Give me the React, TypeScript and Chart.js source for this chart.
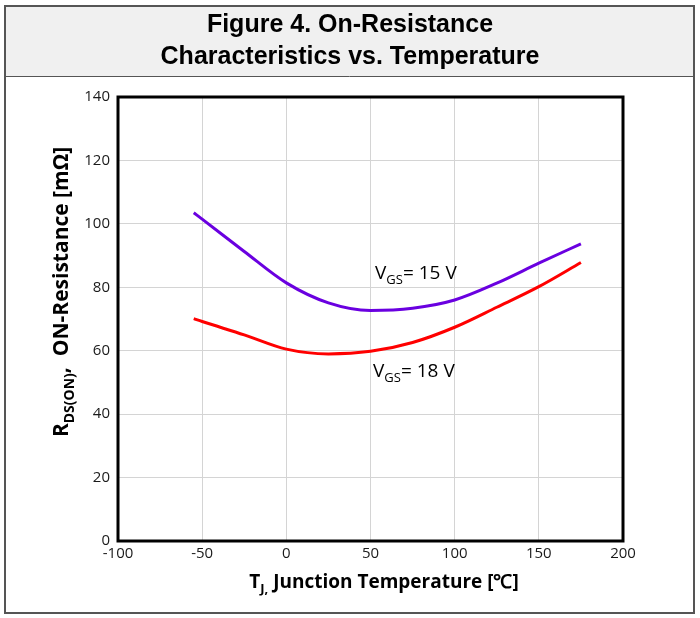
import React, { useEffect, useRef } from "react";
import { Chart, registerables } from "chart.js";
Chart.register(...registerables);

const temps = [-55, -50, -25, 0, 25, 50, 75, 100, 125, 150, 175];
const rdsVgs15 = [103.5, 101.5, 91.3, 81.4, 75.1, 72.7, 73.4, 76, 81.3, 87.6, 93.7];
const rdsVgs18 = [70.1, 69.2, 65, 60.5, 59, 59.8, 62.6, 67.4, 73.7, 80.2, 87.8];
const seriesNames = ["VGS = 15 V", "VGS = 18 V"];
const seriesColors = ["#6a00e0", "#ff0000"];

const titleLines = ["Figure 4. On-Resistance", "Characteristics vs. Temperature"];
const xTitle = [
  { t: "T", sub: false },
  { t: "J,", sub: true },
  { t: " Junction Temperature [℃]", sub: false },
];
const yTitle = [
  { t: "R", sub: false },
  { t: "DS(ON)", sub: true },
  { t: ",  ON-Resistance [mΩ]", sub: false },
];
const labelX = [52.7, 51.5];
const labelY = [84.8, 53.9];
const labelTail = ["= 15 V", "= 18 V"];

const xMin = -100, xMax = 200, xStep = 50;
const yMin = 0, yMax = 140, yStep = 20;

type Seg = { t: string; sub: boolean };

function drawRich(ctx: CanvasRenderingContext2D, segs: Seg[], size: number, subSize: number, bold: boolean, family: string, x: number, y: number, align: "left" | "center") {
  const w = bold ? "bold " : "";
  let total = 0;
  for (const s of segs) {
    ctx.font = `${w}${s.sub ? subSize : size}px ${family}`;
    total += ctx.measureText(s.t).width;
  }
  let cx = align === "center" ? x - total / 2 : x;
  ctx.textBaseline = "alphabetic";
  ctx.textAlign = "left";
  for (const s of segs) {
    ctx.font = `${w}${s.sub ? subSize : size}px ${family}`;
    ctx.fillText(s.t, cx, y + (s.sub ? size * 0.28 : 0));
    cx += ctx.measureText(s.t).width;
  }
}

const decorPlugin = {
  id: "decor",
  beforeDraw(chart: any) {
    const ctx = chart.ctx as CanvasRenderingContext2D;
    ctx.save();
    ctx.fillStyle = "#ffffff";
    ctx.fillRect(0, 0, chart.width, chart.height);
    ctx.fillStyle = "#f0f0f0";
    ctx.fillRect(5, 6, 689, 70);
    ctx.strokeStyle = "#555555";
    ctx.lineWidth = 1;
    ctx.beginPath();
    ctx.moveTo(5, 76.5);
    ctx.lineTo(694, 76.5);
    ctx.stroke();
    ctx.lineWidth = 2;
    ctx.strokeRect(5, 6, 689, 607);
    ctx.fillStyle = "#000000";
    ctx.font = "bold 25px 'Liberation Sans', Arial, sans-serif";
    ctx.textAlign = "center";
    ctx.textBaseline = "middle";
    ctx.fillText(titleLines[0], 350, 25);
    ctx.fillText(titleLines[1], 350, 57);
    ctx.restore();
  },
  afterDraw(chart: any) {
    const ctx = chart.ctx as CanvasRenderingContext2D;
    const a = chart.chartArea;
    ctx.save();
    ctx.strokeStyle = "#000000";
    ctx.lineWidth = 3;
    ctx.strokeRect(a.left, a.top, a.right - a.left, a.bottom - a.top);
    ctx.fillStyle = "#000000";
    drawRich(ctx, xTitle, 19, 13, true, "'Open Sans', sans-serif", 384, 588, "center");
    ctx.translate(68, 292);
    ctx.rotate(-Math.PI / 2);
    drawRich(ctx, yTitle, 21, 14, true, "'Open Sans', sans-serif", 0, 0, "center");
    ctx.restore();
    ctx.save();
    ctx.fillStyle = "#000000";
    const xs = chart.scales.x, ys = chart.scales.y;
    for (let i = 0; i < labelX.length; i++) {
      const px = xs.getPixelForValue(labelX[i]);
      const py = ys.getPixelForValue(labelY[i]) + 7;
      drawRich(ctx, [{ t: "V", sub: false }, { t: "GS", sub: true }, { t: labelTail[i], sub: false }], 19, 13, false, "'Open Sans', sans-serif", px, py, "left");
    }
    ctx.restore();
  },
};

export default function App() {
  const ref = useRef<HTMLCanvasElement | null>(null);
  useEffect(() => {
    document.body.style.margin = "0";
    const canvas = ref.current!;
    const chart = new Chart(canvas, {
      type: "line",
      data: {
        datasets: [
          {
            label: seriesNames[0],
            data: temps.map((t, i) => ({ x: t, y: rdsVgs15[i] })),
            borderColor: seriesColors[0],
            borderWidth: 3,
            pointRadius: 0,
            cubicInterpolationMode: "monotone",
            fill: false,
          },
          {
            label: seriesNames[1],
            data: temps.map((t, i) => ({ x: t, y: rdsVgs18[i] })),
            borderColor: seriesColors[1],
            borderWidth: 3,
            pointRadius: 0,
            cubicInterpolationMode: "monotone",
            fill: false,
          },
        ],
      },
      options: {
        animation: false,
        responsive: false,
        devicePixelRatio: 1,
        layout: { padding: { left: 0, top: 97, right: 77, bottom: 0 } },
        plugins: { legend: { display: false }, tooltip: { enabled: false }, title: { display: false } },
        scales: {
          x: {
            type: "linear",
            min: xMin,
            max: xMax,
            ticks: { stepSize: xStep, color: "#1a1a1a", font: { family: "'Open Sans', sans-serif", size: 15 }, padding: 4, maxRotation: 0 },
            grid: { color: "#d4d4d4", lineWidth: 1, drawTicks: false },
            border: { display: false },
            afterFit: (s: any) => { s.height = 77; },
          },
          y: {
            type: "linear",
            min: yMin,
            max: yMax,
            ticks: { stepSize: yStep, color: "#1a1a1a", font: { family: "'Open Sans', sans-serif", size: 15 }, padding: 8 },
            grid: { color: "#d4d4d4", lineWidth: 1, drawTicks: false },
            border: { display: false },
            afterFit: (s: any) => { s.width = 118; },
          },
        },
      },
      plugins: [decorPlugin],
    } as any);
    return () => chart.destroy();
  }, []);
  return (
    <div style={{ width: 700, height: 618, position: "relative" }}>
      <canvas ref={ref} width={700} height={618} style={{ display: "block", width: 700, height: 618 }} />
    </div>
  );
}
